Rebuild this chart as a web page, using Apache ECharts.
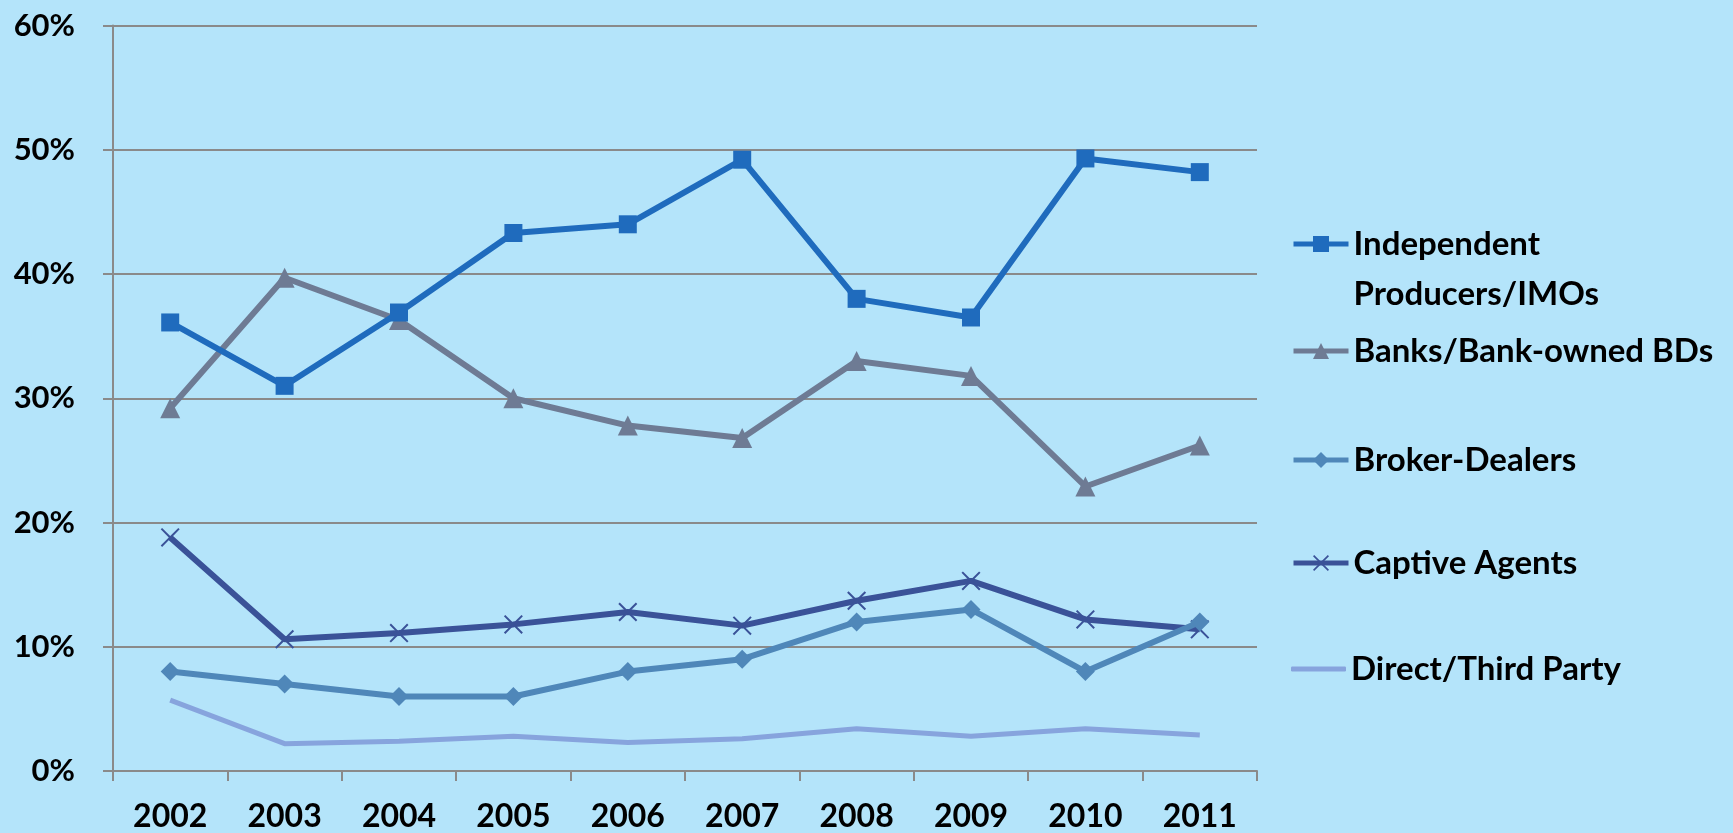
<!DOCTYPE html>
<html><head><meta charset="utf-8">
<script src="https://cdn.jsdelivr.net/npm/echarts@6/dist/echarts.min.js"></script>
<style>html,body{margin:0;padding:0;background:#b4e4fa}#c{width:1733px;height:833px}</style>
</head><body><div id="c"></div>
<script>
const years = ['2002','2003','2004','2005','2006','2007','2008','2009','2010','2011'];
const seriesNames = ['Independent\nProducers/IMOs','Banks/Bank-owned BDs','Broker-Dealers','Captive Agents','Direct/Third Party'];
const independent = [36.1,31.0,36.9,43.3,44.0,49.2,38.0,36.5,49.3,48.2];
const banks = [29.2,39.7,36.3,30.0,27.8,26.8,33.0,31.8,22.9,26.2];
const brokers = [8.0,7.0,6.0,6.0,8.0,9.0,12.0,13.0,8.0,12.0];
const captive = [18.8,10.6,11.1,11.8,12.8,11.7,13.7,15.3,12.2,11.4];
const direct = [5.7,2.2,2.4,2.8,2.3,2.6,3.4,2.8,3.4,2.9];

const FONT = 'Lato';
const colors = ['#1f6bbd','#6e7b94','#4f87b9','#3a5298','#87a4dd'];
const crossPath = 'path://M0,1.2L1.2,0L8,6.8L14.8,0L16,1.2L9.2,8L16,14.8L14.8,16L8,9.2L1.2,16L0,14.8L6.8,8Z';
const symbols = ['rect','triangle','diamond',crossPath,'none'];
const symbolSizes = [18,20,19,19,0];
const lineWidths = [6,6,6,6,5];
const dataSets = [independent,banks,brokers,captive,direct];

const chart = echarts.init(document.getElementById('c'), null, {renderer:'canvas'});
const legendCenters = [244,351,460,563,669];
const legends = seriesNames.map((n,i)=>{
  const lg = {
    data:[n],
    left:1291,
    top: i===0 ? legendCenters[i]-75 : legendCenters[i]-25,
    padding:0,
    itemWidth:55, itemHeight:20,
    lineStyle:{width:5},
    formatter: nm => nm.indexOf('\n')>=0 ? ' \n'+nm : nm,
    textStyle:{fontFamily:FONT,fontWeight:'bold',fontSize:33,color:'#000',lineHeight:50}
  };
  if (symbols[i]==='none') { lg.icon='roundRect'; lg.itemHeight=5; }
  return lg;
});

chart.setOption({
  backgroundColor:'#b4e4fa',
  animation:false,
  grid:{left:113,right:476,top:25.5,bottom:62,containLabel:false},
  legend:legends,
  xAxis:{type:'category',data:years,boundaryGap:true,
    axisLine:{lineStyle:{color:'#8a8a8a',width:2}},
    axisTick:{show:true,length:10,lineStyle:{color:'#8a8a8a',width:2}},
    axisLabel:{fontFamily:FONT,fontWeight:'bold',fontSize:32,color:'#000',margin:30}},
  yAxis:{type:'value',min:0,max:60,interval:10,
    axisLine:{show:true,lineStyle:{color:'#8a8a8a',width:2}},
    axisTick:{show:true,length:10,lineStyle:{color:'#8a8a8a',width:2}},
    splitLine:{lineStyle:{color:'#8a8a8a',width:2}},
    axisLabel:{fontFamily:FONT,fontWeight:'bold',fontSize:31,color:'#000',margin:38,formatter:'{value}%'}},
  series:dataSets.map((d,i)=>({
    name:seriesNames[i],type:'line',data:d,
    symbol:symbols[i],symbolSize:symbolSizes[i],showSymbol:i!==4,
    lineStyle:{color:colors[i],width:lineWidths[i]},
    itemStyle:{color:colors[i]},
    z: 10-i
  }))
});
</script></body></html>
